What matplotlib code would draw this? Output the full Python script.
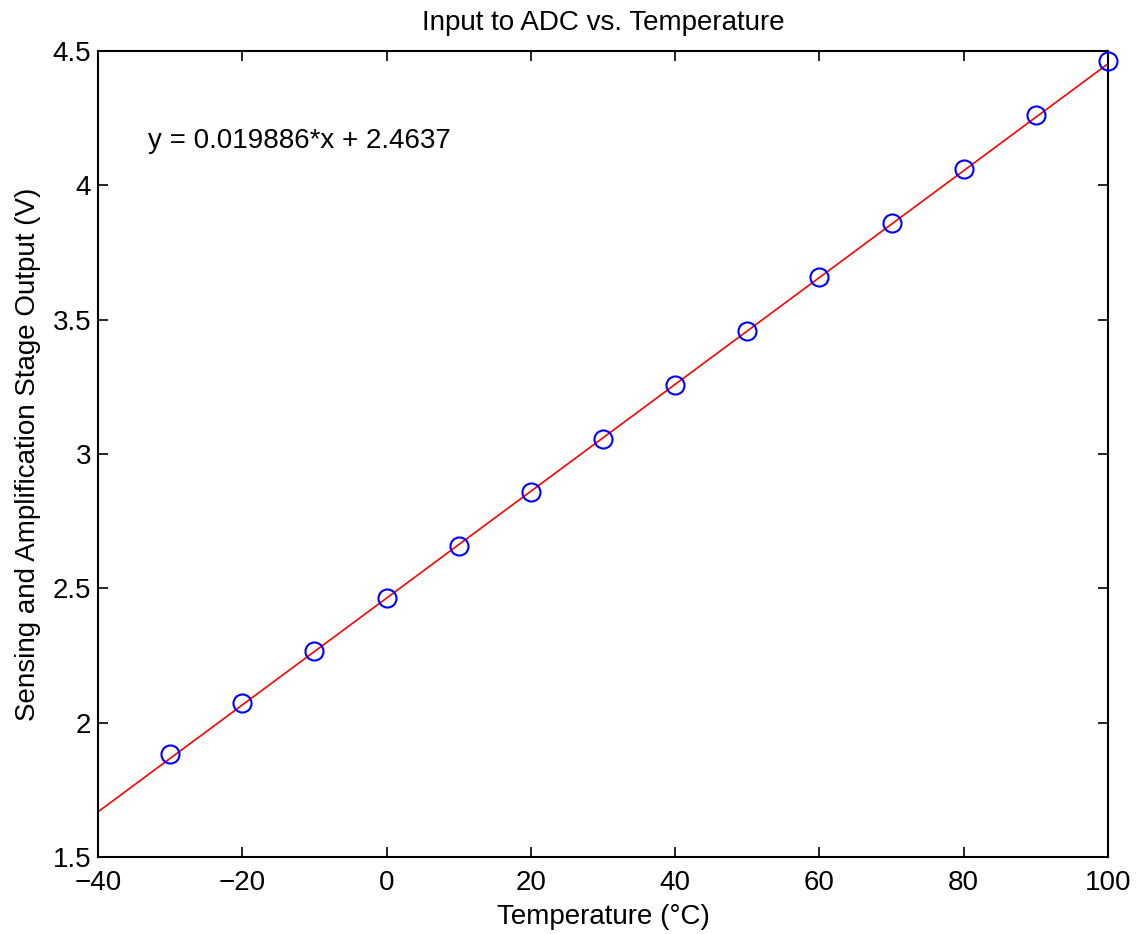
import matplotlib
matplotlib.use("Agg")
import matplotlib.pyplot as plt
import numpy as np

plt.rcParams['font.family'] = ['Liberation Sans', 'DejaVu Sans']

temperature = [-30, -20, -10, 0, 10, 20, 30, 40, 50, 60, 70, 80, 90, 100]
voltage = [1.883, 2.073, 2.267, 2.463, 2.657, 2.857, 3.055, 3.256, 3.457, 3.658, 3.859, 4.059, 4.261, 4.462]
slope = 0.019886
intercept = 2.4637
fit_x = [-40, 100]
xticks = [-40, -20, 0, 20, 40, 60, 80, 100]
yticks = [1.5, 2, 2.5, 3, 3.5, 4, 4.5]
yticklabels = ["1.5", "2", "2.5", "3", "3.5", "4", "4.5"]

FS = 20
fig = plt.figure(figsize=(11.38, 9.34), dpi=100)
ax = fig.add_axes([0.0861, 0.0824, 0.8875, 0.863])
fx = np.array(fit_x)
ax.plot(fx, slope * fx + intercept, color='red', lw=1.2, zorder=2)
ax.plot(temperature, voltage, 'o', mfc='none', mec='blue', ms=13, mew=1.5, zorder=3, clip_on=False)
ax.set_xlim(-40, 100)
ax.set_ylim(1.5, 4.5)
ax.set_xticks(xticks)
ax.set_xticklabels(["\u2212" + str(-t) if t < 0 else str(t) for t in xticks])
ax.set_yticks(yticks)
ax.set_yticklabels(yticklabels)
ax.tick_params(direction='in', length=7.5, width=1.2, labelsize=FS, top=True, right=True)
ax.tick_params(axis='x', pad=9)
ax.tick_params(axis='y', pad=5)
for s in ax.spines.values():
    s.set_linewidth(1.5)
ax.set_title("Input to ADC vs. Temperature", fontsize=FS, pad=15)
ax.set_xlabel("Temperature (\u00b0C)", fontsize=FS, labelpad=6)
ax.set_ylabel("Sensing and Amplification Stage Output (V)", fontsize=FS, labelpad=8)
ax.text(-33.1, 4.165, "y = 0.019886*x + 2.4637", fontsize=FS, va='center', ha='left')
fig.savefig("out.png", dpi=100)
